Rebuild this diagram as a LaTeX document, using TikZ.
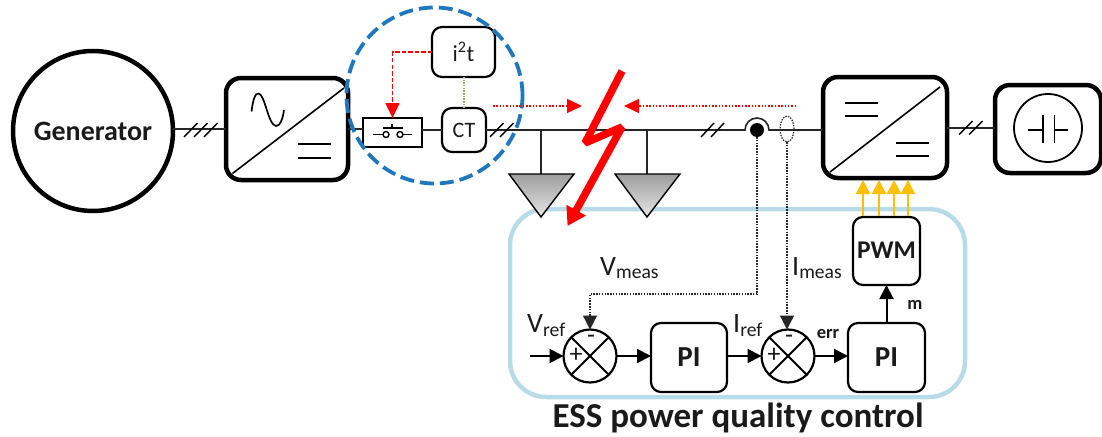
\documentclass[tikz,border=0pt]{standalone}
\usepackage{fontspec}
\setmainfont{Carlito}
\usetikzlibrary{arrows.meta,calc,shapes.geometric}
\definecolor{blued}{HTML}{1F78BE}
\definecolor{pale}{HTML}{B7DCE8}
\definecolor{gold}{HTML}{FFC000}
\definecolor{olive}{HTML}{8FB050}
\definecolor{txt}{HTML}{1A1A1A}
\tikzset{
  thick box/.style={draw=black,line width=4.5pt,rounded corners=15pt,fill=white,inner sep=0pt,outer sep=0pt},
  mid box/.style={draw=black,line width=2.2pt,rounded corners=10pt,fill=white,inner sep=0pt,outer sep=0pt,text=txt},
  sum/.style={draw=black,line width=2.2pt,circle,fill=white,inner sep=0pt,outer sep=0pt,minimum size=53pt},
  wire/.style={draw=black!85,line width=1.6pt},
  tick/.style={draw=black,line width=1.4pt},
  sig/.style={draw=black,line width=2pt,-{Triangle[width=14pt,length=14pt]}},
  meas/.style={draw=black!85,line width=1.3pt,dash pattern=on 1.5pt off 1.3pt},
  measa/.style={meas,-{Triangle[width=14pt,length=14pt]}},
  redd/.style={draw=red,line width=1.5pt,dash pattern=on 1.5pt off 1.8pt,-{Triangle[width=14pt,length=15pt]}},
  load/.style={draw=black,line width=1.4pt,top color=black!38,bottom color=black!10,line join=miter},
  goldar/.style={draw=gold,line width=2pt,-{Triangle[width=14pt,length=14pt]}},
  lbl/.style={text=txt,inner sep=0pt,font=\fontsize{28}{30}\selectfont},
  small bold/.style={text=txt,inner sep=0pt,font=\bfseries\fontsize{18.5}{20}\selectfont},
}
\begin{document}
\begin{tikzpicture}[x=1pt,y=-1pt]
\useasboundingbox (0,0) rectangle (1102,436);
\coordinate (bus) at (0,130);
% ESS panel
\node[draw=pale,line width=4.5pt,rounded corners=36pt,inner sep=0pt,minimum width=455pt,minimum height=188pt] (panel) at (737.5,303) {};
% main nodes
\node[draw=black,line width=4.5pt,circle,fill=white,inner sep=0pt,outer sep=0pt,minimum size=160pt,font=\bfseries\fontsize{28}{30}\selectfont,text=txt] (gen) at (93,131) {\raisebox{-2pt}{Generator}};
\node[thick box,minimum width=122pt,minimum height=102pt] (c1) at (287,129) {};
\node[thick box,minimum width=124pt,minimum height=101pt] (c2) at (885,127.5) {};
\node[thick box,minimum width=106pt,minimum height=88pt] (ess) at (1048,129) {};
\node[mid box,minimum width=63pt,minimum height=50pt,font=\fontsize{23}{26}\selectfont] (i2t) at (463.5,52) {i\textsuperscript{2}t};
\node[mid box,minimum width=44pt,minimum height=44pt,font=\fontsize{22}{24}\selectfont] (ct) at (464,130) {CT};
\node[draw=black,line width=1.3pt,fill=white,minimum width=59pt,minimum height=29pt,inner sep=0pt,outer sep=0pt] (brk) at (392.5,132.5) {};
% power wires
\draw[wire] (gen.east |- c1.west) -- (c1.west);
\draw[wire] (c1.east) -- (brk.west |- c1.east);
\draw[wire] (brk.east |- ct.east) -- (ct.west);
\coordinate (jl) at (745,130);
\coordinate (jr) at (769,130);
\draw[wire] (ct.east) -- (jl) arc[start angle=180,end angle=0,radius=12pt] -- (c2.west |- jr);
\draw[wire] (c2.east |- ess.west) ++(0,-1) -- ($(ess.west)+(0,-1)$);
% slash marks
\foreach \x in {184,194,204}{\draw[tick] (\x,137) -- ++(13.5,-14);}
\foreach \x in {490,500}{\draw[tick] (\x,137) -- ++(13.5,-14);}
\foreach \x in {701,711}{\draw[tick] (\x,137) -- ++(13,-14);}
\foreach \x in {959,969}{\draw[tick] (\x,134.5) -- ++(13.5,-13.5);}
% converter 1
\draw[line width=1.6pt,black] (232.5,173.5) -- (344,88);
\draw[line width=1.7pt,black] (251.5,111.5) .. controls (253,100) and (255,93) .. (258.5,93.5) .. controls (265,94) and (268,125) .. (276,126) .. controls (280,126.5) and (283,118) .. (284,110);
\draw[line width=1.5pt,black] (298,144) -- (331,144) (298,158) -- (331,158);
% converter 2
\draw[line width=1.6pt,black] (830,172) -- (940,87);
\draw[line width=1.5pt,black] (845,103) -- (878,103) (845,116) -- (878,116) (896,143) -- (929,143) (896,156) -- (929,156);
% storage
\node[draw=black,line width=1.8pt,circle,inner sep=0pt,outer sep=0pt,minimum size=68pt] (cap) at (1048,128) {};
\draw[line width=1.5pt,black] (1028,130) -- (1043,130) (1043,115) -- (1043,143) (1054.5,115) -- (1054.5,143) (1054.5,130) -- (1068,130);
% breaker symbol
\draw[line width=1.4pt,black] (373,134.5) -- (383,134.5) (403,134.5) -- (412,134.5) (383,128) -- (403,128) (392,124) -- (392,128);
\draw[line width=1.4pt,black] (386,134.5) circle[radius=3pt] (400,134.5) circle[radius=3pt];
% protection signals
\draw[draw=red,line width=1.6pt,dash pattern=on 4.5pt off 2pt,-{Triangle[width=14pt,length=15pt]}] (i2t.west) -| (brk.north);
\draw[draw=olive,line width=1.3pt,dash pattern=on 1.5pt off 1.2pt] (ct.north) -- (ct.north |- i2t.south);
% protection zone
\node[draw=blued,line width=3.8pt,circle,dash pattern=on 14pt off 6pt,inner sep=0pt,minimum size=176pt] (zone) at (434.5,95.5) {};
% loads
\coordinate (s1) at (541,174);
\coordinate (s2) at (647,174);
\draw[wire] (s1 |- bus) -- (s1);
\draw[wire] (s2 |- bus) -- (s2);
\path[load] (509,174) -- (574,174) -- (541,217) -- cycle;
\path[load] (615,174) -- (680,174) -- (647,217) -- cycle;
% fault current arrows
\coordinate (fl) at (493,106);
\coordinate (fr) at (796,106);
\draw[redd] (fl) -- (582,106);
\draw[redd] (fr) -- (624,106);
% fault
\coordinate (f1) at (622,71);
\coordinate (f2) at (585,143);
\coordinate (f3) at (622,127);
\coordinate (f4) at (567.5,226);
\draw[red,line width=7.5pt,line join=bevel,-{Triangle[width=21pt,length=18pt]}] (f1) -- (f2) -- (f3) -- (f4);
% sensors
\node[circle,fill=black,inner sep=0pt,outer sep=0pt,minimum size=14pt] (vs) at (757,130) {};
\node[draw=black!85,line width=1.2pt,dash pattern=on 1.5pt off 1.2pt,ellipse,inner sep=0pt,outer sep=0pt,minimum width=14pt,minimum height=26pt] (is) at (787,129) {};
% control blocks
\node[sum] (sa) at (590,356) {};
\node[sum] (sb) at (788,356) {};
\node[mid box,minimum width=76pt,minimum height=69pt,font=\bfseries\fontsize{29}{30}\selectfont] (pa) at (689,357.5) {PI};
\node[mid box,minimum width=77pt,minimum height=69pt,font=\bfseries\fontsize{29}{30}\selectfont] (pb) at (886.5,357.5) {PI};
\node[mid box,minimum width=67pt,minimum height=68pt,font=\bfseries\fontsize{25.5}{28}\selectfont] (pwm) at (886.5,251) {\raisebox{1pt}{PWM}};
\foreach \n in {sa,sb}{
  \draw[line width=2pt,black] (\n.45) -- (\n.225) (\n.135) -- (\n.315);
  \node[text=txt,inner sep=0pt,font=\fontsize{26}{28}\selectfont] (\n p) at ($(\n)+(-14,-1)$) {+};
  \node[text=txt,inner sep=0pt,font=\fontsize{26}{28}\selectfont] (\n m) at ($(\n)+(1,-17)$) {-};
}
% control connectors
\coordinate (vin) at (530,356);
\coordinate (vturn) at (757,294);
\draw[sig] (vin) -- (sa.west);
\draw[sig] (sa.east) -- (pa.west |- sa.east);
\draw[sig] (pa.east |- sb.west) -- (sb.west);
\draw[sig] (sb.east) -- (pb.west |- sb.east);
\draw[sig] (pb.north) -- (pwm.south);
\draw[measa] (vs.south) -- (vturn) -| (sa.north);
\draw[measa] (is.south) -- (is.south |- sb.north);
\foreach \x in {863,879,894,908}{
  \draw[goldar] (\x,216) -- (\x,180);
}
% labels
\node[lbl,anchor=base west] (lvm) at (600,275) {V\textsubscript{meas}};
\node[lbl,anchor=base west] (lim) at (792,275) {I\textsubscript{meas}};
\node[lbl,anchor=base west] (lvr) at (527,332) {V\textsubscript{ref}};
\node[lbl,anchor=base west] (lir) at (733,332) {I\textsubscript{ref}};
\node[small bold] (lerr) at (828,334) {err};
\node[small bold] (lm) at (915,305) {m};
\node[text=txt,inner sep=0pt,font=\bfseries\fontsize{35}{38}\selectfont] (title) at (738,418) {ESS power quality control};
\end{tikzpicture}
\end{document}
